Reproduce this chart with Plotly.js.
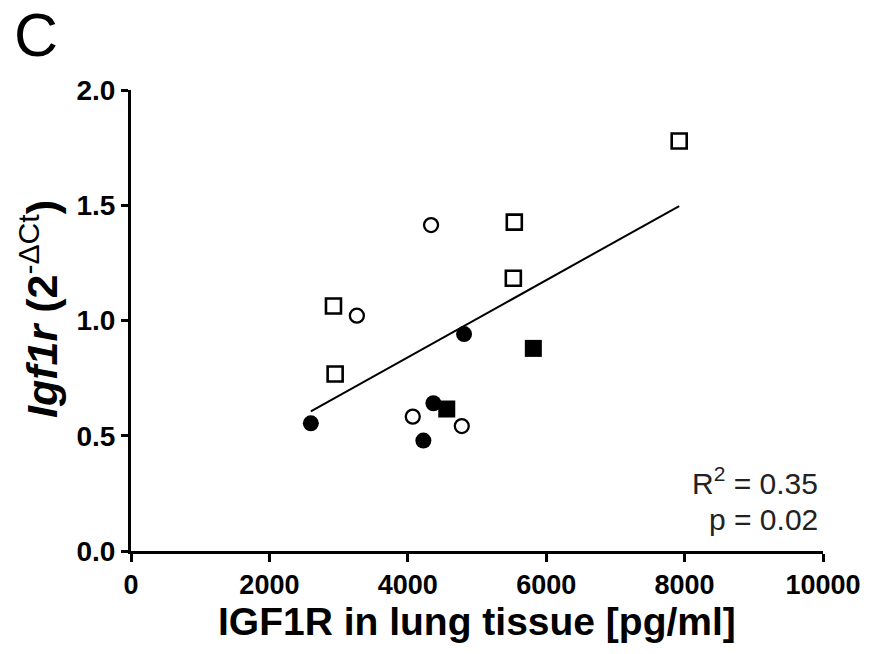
<!DOCTYPE html>
<html>
<head>
<meta charset="utf-8">
<script src="https://cdn.plot.ly/plotly-3.0.1.min.js"></script>
<style>html,body{margin:0;padding:0;background:#fff;}#chart{width:875px;height:654px;}</style>
</head>
<body>
<div id="chart"></div>
<script>
// IGF1R protein in lung tissue [pg/ml] vs Igf1r expression (2^-dCt)
const openSquareX = [7922, 5539, 5525, 2926, 2950];
const openSquareY = [1.779, 1.427, 1.183, 1.063, 0.768];
const openCircleX = [4336, 3264, 4072, 4780];
const openCircleY = [1.414, 1.021, 0.583, 0.542];
const filledCircleX = [2599, 4813, 4370, 4225];
const filledCircleY = [0.554, 0.941, 0.641, 0.479];
const filledSquareX = [5814, 4563];
const filledSquareY = [0.879, 0.616];
const xTickVals = [0, 2000, 4000, 6000, 8000, 10000];
const yTickVals = [0, 0.5, 1.0, 1.5, 2.0];
const yTickText = ["0.0", "0.5", "1.0", "1.5", "2.0"];
const xTitle = "IGF1R in lung tissue [pg/ml]";
const yTitle = "<b><i>Igf1r</i> (2</b><sup>-ΔCt</sup><b>)</b>";
const statsText = ["R<sup>2</sup> = 0.35", "p = 0.02"];
const panelLabel = "C";

// linear regression over all points
const allX = openSquareX.concat(openCircleX, filledCircleX, filledSquareX);
const allY = openSquareY.concat(openCircleY, filledCircleY, filledSquareY);
const n = allX.length;
const mx = allX.reduce((a, b) => a + b, 0) / n;
const my = allY.reduce((a, b) => a + b, 0) / n;
let sxy = 0, sxx = 0;
for (let i = 0; i < n; i++) { sxy += (allX[i] - mx) * (allY[i] - my); sxx += (allX[i] - mx) ** 2; }
const slope = sxy / sxx, intercept = my - slope * mx;
const fitX = [Math.min(...allX), Math.max(...allX)];
const fitY = fitX.map(v => intercept + slope * v);

const traces = [
  {x: fitX, y: fitY, mode: 'lines', line: {color: '#000', width: 2}, hoverinfo: 'skip'},
  {x: openSquareX, y: openSquareY, mode: 'markers',
   marker: {symbol: 'square-open', size: 15, color: '#000', line: {width: 2.6, color: '#000'}}},
  {x: openCircleX, y: openCircleY, mode: 'markers',
   marker: {symbol: 'circle-open', size: 14, color: '#000', line: {width: 2.3, color: '#000'}}},
  {x: filledCircleX, y: filledCircleY, mode: 'markers',
   marker: {symbol: 'circle', size: 16, color: '#000', line: {width: 0}}},
  {x: filledSquareX, y: filledSquareY, mode: 'markers',
   marker: {symbol: 'square', size: 17, color: '#000', line: {width: 0}}}
];

const font = 'Liberation Sans, Arial, sans-serif';
const layout = {
  width: 875, height: 654,
  margin: {l: 131, r: 52, t: 90, b: 103},
  paper_bgcolor: '#fff', plot_bgcolor: '#fff',
  showlegend: false,
  font: {family: font, color: '#000'},
  xaxis: {
    range: [0, 10000], tickvals: xTickVals, ticktext: xTickVals.map(String),
    showgrid: false, zeroline: false, showline: true, linecolor: '#000', linewidth: 3,
    ticks: 'outside', ticklen: 8, tickwidth: 3, tickcolor: '#000',
    tickfont: {family: font, size: 27, color: '#000', weight: 'bold'},
    automargin: false
  },
  yaxis: {
    range: [0, 2], tickvals: yTickVals, ticktext: yTickText,
    showgrid: false, zeroline: false, showline: true, linecolor: '#000', linewidth: 3,
    ticks: 'outside', ticklen: 7, tickwidth: 3, tickcolor: '#000',
    tickfont: {family: font, size: 28, color: '#000', weight: 'bold'},
    automargin: false
  },
  annotations: [
    {xref: 'paper', yref: 'paper', x: 0.5, y: -0.152, xanchor: 'center', yanchor: 'middle',
     text: '<b>' + xTitle + '</b>', showarrow: false, font: {family: font, size: 39, color: '#000'}},
    {xref: 'paper', yref: 'paper', x: -0.133, y: 0.525, xanchor: 'center', yanchor: 'middle',
     textangle: -90, text: yTitle, showarrow: false, font: {family: font, size: 43, color: '#000'}},
    {xref: 'paper', yref: 'paper', x: 0.995, y: 0.1525, xanchor: 'right', yanchor: 'middle',
     text: statsText[0], showarrow: false, font: {family: font, size: 30, color: '#222'}},
    {xref: 'paper', yref: 'paper', x: 0.995, y: 0.069, xanchor: 'right', yanchor: 'middle',
     text: statsText[1], showarrow: false, font: {family: font, size: 30, color: '#222'}},
    {xref: 'paper', yref: 'paper', x: -0.137, y: 1.119, xanchor: 'center', yanchor: 'middle',
     text: panelLabel, showarrow: false, font: {family: font, size: 61, color: '#000'}}
  ]
};
Plotly.newPlot('chart', traces, layout, {staticPlot: true});
</script>
</body>
</html>
